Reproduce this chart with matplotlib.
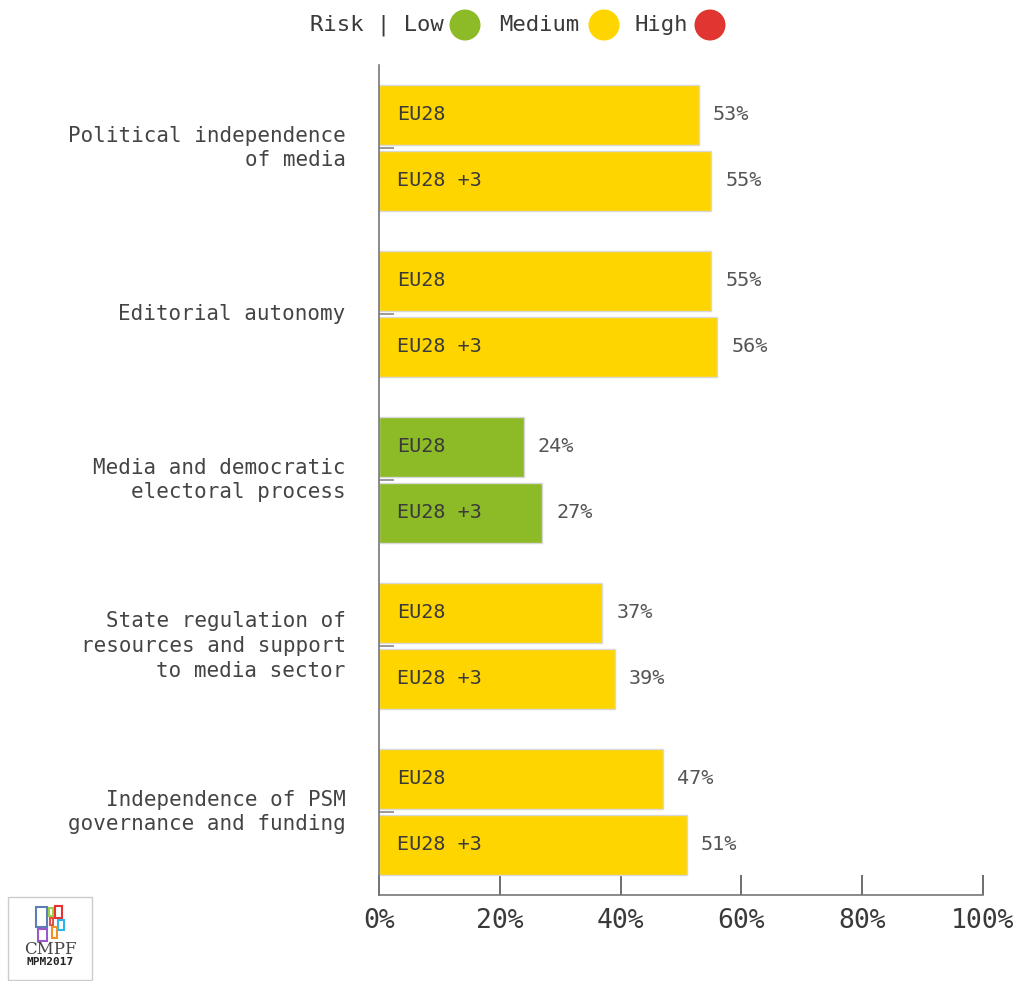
import matplotlib
matplotlib.use("Agg")
import matplotlib.pyplot as plt
from matplotlib.patches import Ellipse, Rectangle
import numpy as np

categories = ["Political independence\nof media",
              "Editorial autonomy",
              "Media and democratic\nelectoral process",
              "State regulation of\nresources and support\nto media sector",
              "Independence of PSM\ngovernance and funding"]
eu28 = [53, 55, 24, 37, 47]
eu28p3 = [55, 56, 27, 39, 51]
series_names = ["EU28", "EU28 +3"]
xticks = [0, 20, 40, 60, 80, 100]
xtick_labels = ["0%", "20%", "40%", "60%", "80%", "100%"]

GREEN = "#8DBB27"
YELLOW = "#FFD500"
RED = "#E03531"

def risk_color(v):
    if v < 33:
        return GREEN
    elif v < 67:
        return YELLOW
    return RED

W, H = 1022, 981
fig = plt.figure(figsize=(W/100, H/100), dpi=100)
ax = fig.add_axes([379/W, 1-895/H, (983-379)/W, (895-65)/H])

mono = "DejaVu Sans Mono"
txt_col = "#444444"
val_col = "#555555"

bh = 60/166
off = 33/166
y = np.arange(len(categories))
for vals, sign, name in [(eu28, -1, series_names[0]), (eu28p3, 1, series_names[1])]:
    ys = y + sign*off
    cols = [risk_color(v) for v in vals]
    ax.barh(ys, vals, height=bh, color=cols, edgecolor="#d8d8d8", linewidth=1.0, zorder=2)
    for yy, v in zip(ys, vals):
        ax.text(3, yy, name, va="center", ha="left", fontsize=14.5, family=mono,
                color="#3a3a3a", zorder=3)
        ax.annotate(f"{v}%", (v, yy), xytext=(14, 0), textcoords="offset pixels",
                    va="center", ha="left", fontsize=14.5, family=mono, color=val_col)

ax.set_xlim(0, 100)
ax.set_ylim(len(categories)-0.5, -0.5)
for s in ["top", "right"]:
    ax.spines[s].set_visible(False)
for s in ["left", "bottom"]:
    ax.spines[s].set_color("#777777")
    ax.spines[s].set_linewidth(1.2)

ax.set_xticks(xticks)
ax.set_xticklabels(xtick_labels, family=mono, fontsize=19, color="#3a3a3a")
ax.tick_params(axis="x", direction="in", length=14.4, width=1.2, color="#555555", pad=9)
ax.set_yticks(y)
ax.set_yticklabels(categories, family=mono, fontsize=15, color=txt_col, linespacing=1.3)
ax.tick_params(axis="y", direction="in", length=11, width=1.2, color="#888888", pad=24)
for lab in ax.get_yticklabels():
    lab.set_multialignment("right")
    lab.set_verticalalignment("center")

# Legend at top
ly = 1 - 25/H
fig.text(310/W, ly, "Risk | Low", family=mono, fontsize=16, color="#3a3a3a", va="center", ha="left")
fig.text(499/W, ly, "Medium", family=mono, fontsize=16, color="#3a3a3a", va="center", ha="left")
fig.text(634/W, ly, "High", family=mono, fontsize=16, color="#3a3a3a", va="center", ha="left")
for cx, c in [(465, GREEN), (604, YELLOW), (710, RED)]:
    fig.add_artist(Ellipse((cx/W, ly), 31/W, 31/H, transform=fig.transFigure,
                           facecolor=c, edgecolor="none"))

# Logo
fig.add_artist(Rectangle((8/W, 1-980/H), 84/W, 83/H, transform=fig.transFigure,
                         facecolor="white", edgecolor="#cccccc", linewidth=1))
logo_rects = [(36, 907, 11, 20, "#5b7fb5"), (49, 908, 4, 8, "#9bd14a"), (55, 906, 7, 12, "#e8322f"),
              (50, 918, 3, 7, "#e05050"), (58, 920, 6, 10, "#29b6e8"), (38, 929, 9, 12, "#9a58c8"),
              (52, 927, 5, 11, "#f39024")]
for x0, y0, w, h, c in logo_rects:
    fig.add_artist(Rectangle((x0/W, 1-(y0+h)/H), w/W, h/H, transform=fig.transFigure,
                             facecolor="none", edgecolor=c, linewidth=1.5))
fig.text(50/W, 1-949/H, "CMPF", family="DejaVu Serif", fontsize=12, color="#444444",
         ha="center", va="center")
fig.text(50/W, 1-962/H, "MPM2017", family=mono, fontsize=8, weight="bold", color="#222222",
         ha="center", va="center")

fig.savefig("out.png", dpi=100, facecolor="white")
